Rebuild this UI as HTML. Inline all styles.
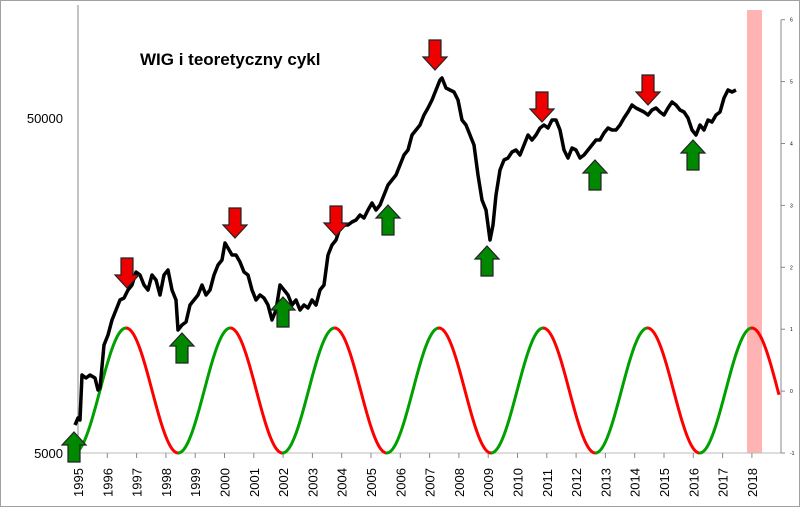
<!DOCTYPE html>
<html><head><meta charset="utf-8"><style>
body{margin:0;background:#fff}
svg{display:block;font-family:"Liberation Sans",sans-serif}
</style></head><body>
<svg id="s" width="800" height="507" viewBox="0 0 800 507">
<rect x="0.5" y="0.5" width="799" height="506" fill="#fff" stroke="#a0a0a0"/>
<rect x="747" y="10" width="15" height="443" fill="#ffb3b3"/>
<line x1="78" y1="5" x2="78" y2="453" stroke="#888"/>
<line x1="78" y1="453" x2="781" y2="453" stroke="#bbb"/>
<line x1="781" y1="20" x2="781" y2="453" stroke="#888"/>
<text x="63" y="123" font-size="13" text-anchor="end">50000</text>
<text x="63" y="458" font-size="13" text-anchor="end">5000</text>
<text x="140" y="65" font-size="17" font-weight="bold">WIG i teoretyczny cykl</text>
<g id="g"></g>
</svg>
<script>
var ns="http://www.w3.org/2000/svg",g=document.getElementById('g');
function el(t,a){var e=document.createElementNS(ns,t);for(var k in a)e.setAttribute(k,a[k]);g.appendChild(e);return e;}
// year ticks
for(var i=0;i<=23;i++){var x=78+i*29.3;el('line',{x1:x,y1:453,x2:x,y2:458,stroke:'#888'});
var t=el('text',{x:0,y:0,'font-size':13,transform:'translate('+(x+5)+',497) rotate(-90)'});t.textContent=1995+i;}
// right ticks
for(var v=-1;v<=6;v++){var y=453-(v+1)*61.9;el('line',{x1:781,y1:y,x2:785,y2:y,stroke:'#888'});
var t=el('text',{x:790,y:y+2,'font-size':5});t.textContent=v;}
// cycle
var P=104.3,segs=[],cur=null,pts=[];
for(var x=78;x<=779;x+=1){var ph=2*Math.PI*(x-126)/P;var y=390.5-62.5*Math.cos(ph);
var col=Math.sin(ph)>0?'#ff0000':'#00a000';
if(col!==cur){if(pts.length)segs.push([cur,pts.concat([[x,y]])]);pts=pts.length?[pts[pts.length-1]]:[];cur=col;}
pts.push([x,y]);}
segs.push([cur,pts]);
segs.forEach(function(s){el('polyline',{points:s[1].map(function(p){return p.join(',')}).join(' '),fill:'none',stroke:s[0],'stroke-width':3});});
// WIG
var d=[[75,425],[78,418],[80,420],[82,375],[86,378],[90,375],[95,378],[98,390],[100,388],[104,345],[108,335],[112,320],[116,310],[120,300],[124,298],[128,290],[132,285],[136,272],[140,275],[144,285],[148,290],[152,275],[156,280],[160,295],[164,275],[168,270],[172,290],[176,300],[178,330],[182,325],[186,322],[190,305],[194,300],[198,295],[202,285],[206,295],[210,290],[214,275],[218,265],[222,260],[225,243],[228,248],[232,255],[236,255],[240,262],[244,272],[248,275],[252,290],[256,300],[260,295],[264,298],[268,305],[272,320],[276,310],[280,285],[284,290],[288,295],[292,305],[296,300],[300,310],[304,305],[308,308],[312,300],[316,305],[320,290],[324,285],[328,255],[332,245],[336,240],[340,228],[344,225],[348,225],[352,222],[356,220],[360,215],[364,218],[368,210],[372,203],[376,210],[380,205],[384,195],[388,185],[392,180],[396,175],[400,165],[404,155],[408,150],[412,135],[416,130],[420,125],[424,115],[428,108],[432,100],[436,90],[440,80],[442,78],[446,88],[450,90],[454,92],[458,100],[462,120],[466,125],[470,135],[474,145],[478,175],[482,200],[486,210],[490,240],[493,225],[496,195],[500,170],[504,160],[508,158],[512,152],[516,150],[520,155],[524,145],[528,135],[532,140],[536,135],[540,128],[544,125],[548,128],[552,120],[556,120],[560,130],[564,150],[568,158],[572,148],[576,150],[580,158],[584,155],[588,150],[592,145],[596,140],[600,140],[604,133],[608,128],[612,130],[616,130],[620,125],[624,118],[628,112],[632,105],[636,108],[640,110],[644,112],[648,115],[652,110],[656,108],[660,112],[664,115],[668,108],[672,102],[676,105],[680,110],[684,112],[688,118],[692,130],[696,135],[700,125],[704,130],[708,120],[712,122],[716,115],[720,112],[724,98],[728,90],[732,92],[736,90]];
el('polyline',{points:d.map(function(p){return p.join(',')}).join(' '),fill:'none',stroke:'#000','stroke-width':3.5,'stroke-linejoin':'round'});
// arrows
function arrow(x,tip,up,col){var h=30,s=up?1:-1,hb=tip+s*13,b=tip+s*h;
el('polygon',{points:[[x,tip],[x+12,hb],[x+6,hb],[x+6,b],[x-6,b],[x-6,hb],[x-12,hb]].map(function(p){return p.join(',')}).join(' '),fill:col,stroke:'#222','stroke-width':1.2});}
[[127,288],[235,238],[336,236],[435,70],[542,122],[648,105]].forEach(function(a){arrow(a[0],a[1],false,'#ee0000');});
[[182,333],[283,297],[388,205],[487,246],[595,160],[693,140],[74,432]].forEach(function(a){arrow(a[0],a[1],true,'#008800');});
</script>
</body></html>
